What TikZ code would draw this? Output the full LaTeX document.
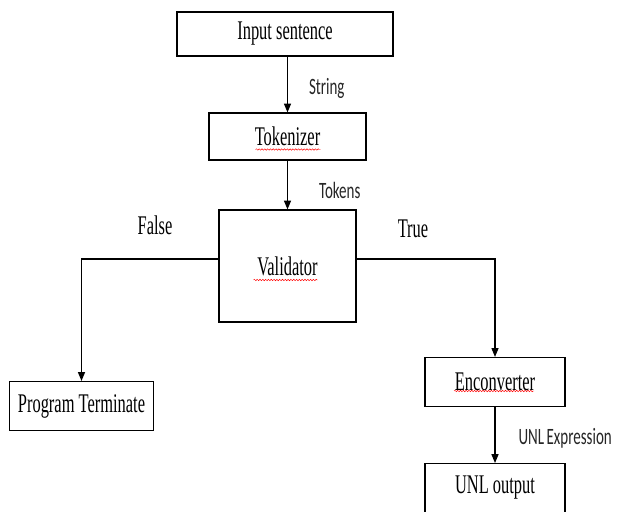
\documentclass[tikz,border=0pt]{standalone}
\usepackage{graphicx}
\usepackage{fontspec}
\setmainfont{Liberation Serif}
\newfontfamily\calibrifont{Carlito}
\usepackage{tikz}
\usetikzlibrary{
  arrows.meta
  , decorations.pathmorphing
}
\newcommand{\narrowtext}[1]{\scalebox{0.61}[1]{#1}}
\newcommand{\narrowsans}[1]{\scalebox{0.64}[1]{#1}}

\begin{document}
\begin{tikzpicture}[x=0.03cm,y=-0.03cm,
    block/.style={draw=black, line width=1pt, inner sep=0pt,
      font=\fontsize{23}{27}\selectfont},
    flow/.style={draw=black, line width=0.9pt,
      -{Triangle[length=7.5pt,width=6pt]}},
    edgelabel/.style={anchor=west, inner sep=0pt, text=black!85,
      font=\calibrifont\fontsize{20}{24}\selectfont},
    branchlabel/.style={inner sep=0pt, font=\fontsize{23}{27}\selectfont},
    squiggle/.style={red, line width=0.4pt, decorate,
      decoration={snake, amplitude=0.6pt, segment length=2.4pt}}]
  \useasboundingbox (0,0) rectangle (618,512);

  \node [block, minimum width=6.48cm, minimum height=1.32cm] (inp) at (285,34)
    {\narrowtext{Input sentence}};
  \node [block, minimum width=4.71cm, minimum height=1.41cm] (tok) at (287.5,136.5)
    {\narrowtext{Tokenizer}};
  \node [block, minimum width=4.11cm, minimum height=3.36cm] (val) at (287.5,266)
    {\narrowtext{Validator}};
  \node [block, minimum width=4.32cm, minimum height=1.47cm] (pt) at (81.5,406)
    {\narrowtext{Program Terminate}};
  \node [block, minimum width=4.2cm, minimum height=1.47cm] (enc) at (495,382)
    {\narrowtext{Enconverter}};
  % last box runs off the bottom of the page
  \node [block, minimum width=4.2cm, minimum height=2.1cm, anchor=north,
    label={[block, draw=none, yshift=0.33cm]center:\narrowtext{UNL output}}]
    (out) at (495,463) {};

  % spell-check marks
  \draw [squiggle] ([shift={(-32,13)}]tok.center) -- ++(65,0);
  \draw [squiggle] ([shift={(-34,14)}]val.center) -- ++(64,0);
  \draw [squiggle] ([shift={(-41,9)}]enc.center) -- ++(80,0);

  \draw [flow] (tok.north |- inp.south) -- node[edgelabel, xshift=0.63cm, yshift=-0.13cm]
    {\narrowsans{String}} (tok.north);
  \draw [flow] (tok) -- node[edgelabel, xshift=0.93cm, yshift=-0.15cm]
    {\narrowsans{Tokens}} (val);
  \draw [flow] ([yshift=0.21cm]val.west) -| (pt.north);
  \draw [flow] ([yshift=0.21cm]val.east) -| (enc.north);
  \draw [flow] (enc) -- node[edgelabel, xshift=0.69cm, yshift=-0.09cm]
    {\narrowsans{UNL\,Expression}} (out);

  \node [branchlabel] (no) at (155,225) {\narrowtext{False}};
  \node [branchlabel] (yes) at (413,229) {\narrowtext{True}};
\end{tikzpicture}
\end{document}
